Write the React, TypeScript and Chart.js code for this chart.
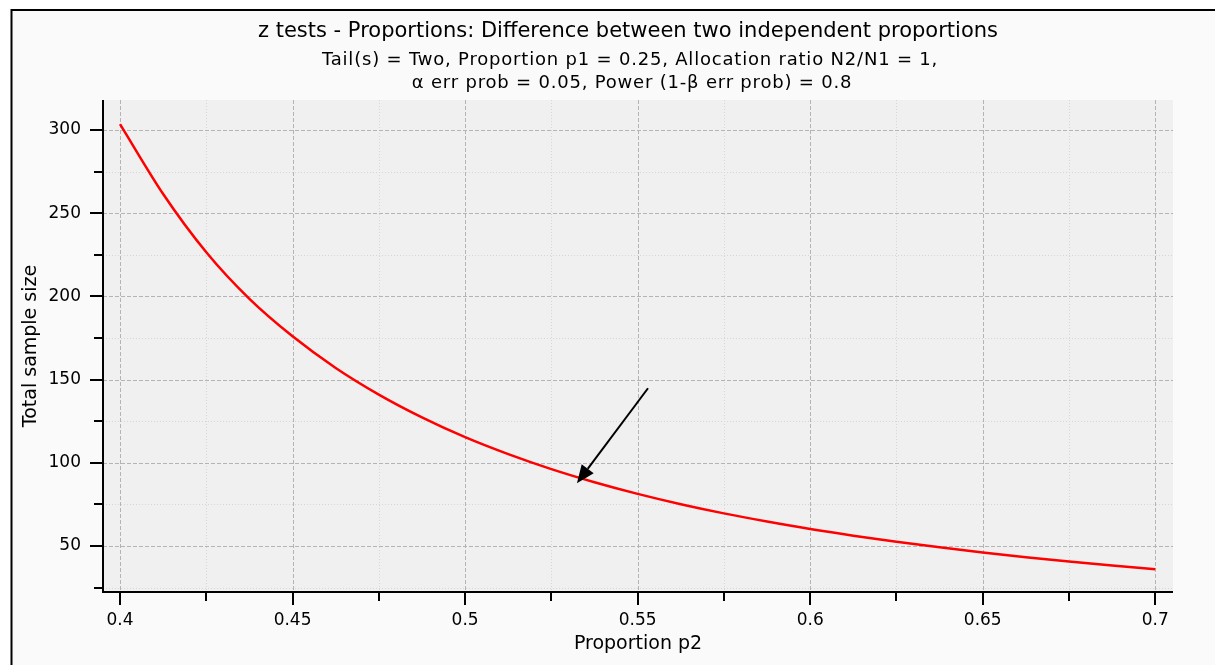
import React, { useEffect, useRef } from "react";
import { Chart, registerables } from "chart.js";

Chart.register(...registerables);

const titleText = "z tests - Proportions: Difference between two independent proportions";
const subtitleLines = [
  "Tail(s) = Two, Proportion p1 = 0.25, Allocation ratio N2/N1 = 1,",
  "α err prob = 0.05, Power (1-β err prob) = 0.8",
];
const xAxisTitle = "Proportion p2";
const yAxisTitle = "Total sample size";

const p2Values = [
  0.4, 0.4125, 0.425, 0.4375, 0.45, 0.4625, 0.475, 0.4875, 0.5, 0.5125, 0.525, 0.5375, 0.55,
  0.5625, 0.575, 0.5875, 0.6, 0.6125, 0.625, 0.6375, 0.65, 0.6625, 0.675, 0.6875, 0.7,
];
const totalSampleSize = [
  303.5, 261.5, 226.5, 198.5, 176, 157, 141, 127.3, 115.4, 105.2, 96.2, 88.3, 81.3, 75.1, 69.6,
  64.7, 60.2, 56.2, 52.55, 49.2, 46.12, 43.29, 40.69, 38.29, 36.09,
];

const xTickValues = [
  0.4, 0.425, 0.45, 0.475, 0.5, 0.525, 0.55, 0.575, 0.6, 0.625, 0.65, 0.675, 0.7,
];
const xMajorStep = 0.05;
const yTickValues = [25, 50, 75, 100, 125, 150, 175, 200, 225, 250, 275, 300];
const yMajorStep = 50;
const xRange = [0.39507, 0.70513];
const yRange = [22.36, 318.0];

const arrowFrom = [0.553, 144.8];
const arrowTo = [0.5324, 87.7];

const FONT = '"DejaVu Sans", sans-serif';

const isMajor = (v: number, step: number) => Math.abs(v / step - Math.round(v / step)) < 1e-6;

const decorPlugin = {
  id: "decor",
  beforeDraw(chart: any) {
    const { ctx, width, height, chartArea } = chart;
    ctx.save();
    ctx.fillStyle = "#ffffff";
    ctx.fillRect(0, 0, width, height);
    ctx.fillStyle = "#fafafa";
    ctx.fillRect(11, 10, width, height);
    ctx.strokeStyle = "#000000";
    ctx.lineWidth = 2;
    ctx.beginPath();
    ctx.moveTo(11.5, height + 5);
    ctx.lineTo(11.5, 10);
    ctx.lineTo(width + 5, 10);
    ctx.stroke();
    ctx.fillStyle = "#f0f0f0";
    ctx.fillRect(chartArea.left, chartArea.top, chartArea.right - chartArea.left, chartArea.bottom - chartArea.top);

    // titles
    ctx.fillStyle = "#000000";
    ctx.textAlign = "center";
    ctx.textBaseline = "middle";
    ctx.font = `21px ${FONT}`;
    ctx.fillText(titleText, 628, 32);
    ctx.font = `18px ${FONT}`;
    (ctx as any).letterSpacing = "0.8px";
    ctx.fillText(subtitleLines[0], 630, 60);
    ctx.fillText(subtitleLines[1], 632, 83);
    (ctx as any).letterSpacing = "0px";
    ctx.restore();
  },
  beforeDatasetsDraw(chart: any) {
    const { ctx, chartArea, scales } = chart;
    const xs = scales.x;
    const ys = scales.y;
    ctx.save();
    ctx.lineWidth = 1;
    xTickValues.forEach((v) => {
      const major = isMajor(v, xMajorStep);
      const px = Math.round(xs.getPixelForValue(v)) + 0.5;
      ctx.strokeStyle = major ? "#b4b4b4" : "#d6d6d6";
      ctx.setLineDash(major ? [4, 2] : [1, 2]);
      ctx.beginPath();
      ctx.moveTo(px, chartArea.top);
      ctx.lineTo(px, chartArea.bottom);
      ctx.stroke();
    });
    yTickValues.forEach((v) => {
      const major = isMajor(v, yMajorStep);
      const py = Math.round(ys.getPixelForValue(v)) + 0.5;
      ctx.strokeStyle = major ? "#b4b4b4" : "#d6d6d6";
      ctx.setLineDash(major ? [4, 2] : [1, 2]);
      ctx.beginPath();
      ctx.moveTo(chartArea.left, py);
      ctx.lineTo(chartArea.right, py);
      ctx.stroke();
    });
    ctx.restore();
  },
  afterDatasetsDraw(chart: any) {
    const { ctx, chartArea, scales } = chart;
    const xs = scales.x;
    const ys = scales.y;
    ctx.save();
    ctx.strokeStyle = "#000000";
    ctx.lineWidth = 2;
    ctx.setLineDash([]);
    // axes
    ctx.beginPath();
    ctx.moveTo(chartArea.left, chartArea.top);
    ctx.lineTo(chartArea.left, chartArea.bottom + 1);
    ctx.moveTo(chartArea.left - 1, chartArea.bottom);
    ctx.lineTo(chartArea.right, chartArea.bottom);
    ctx.stroke();
    // ticks
    ctx.beginPath();
    xTickValues.forEach((v) => {
      const len = isMajor(v, xMajorStep) ? 13 : 9;
      const px = Math.round(xs.getPixelForValue(v));
      ctx.moveTo(px, chartArea.bottom);
      ctx.lineTo(px, chartArea.bottom + len);
    });
    yTickValues.forEach((v) => {
      const len = isMajor(v, yMajorStep) ? 13 : 9;
      const py = Math.round(ys.getPixelForValue(v));
      ctx.moveTo(chartArea.left, py);
      ctx.lineTo(chartArea.left - len, py);
    });
    ctx.stroke();

    // arrow
    const x0 = xs.getPixelForValue(arrowFrom[0]);
    const y0 = ys.getPixelForValue(arrowFrom[1]);
    const x1 = xs.getPixelForValue(arrowTo[0]);
    const y1 = ys.getPixelForValue(arrowTo[1]);
    const ang = Math.atan2(y1 - y0, x1 - x0);
    const headLen = 18;
    const headHalf = 7.5;
    const bx = x1 - headLen * Math.cos(ang);
    const by = y1 - headLen * Math.sin(ang);
    ctx.lineWidth = 2;
    ctx.beginPath();
    ctx.moveTo(x0, y0);
    ctx.lineTo(bx, by);
    ctx.stroke();
    ctx.fillStyle = "#000000";
    ctx.beginPath();
    ctx.moveTo(x1, y1);
    ctx.lineTo(bx + headHalf * Math.sin(ang), by - headHalf * Math.cos(ang));
    ctx.lineTo(bx - headHalf * Math.sin(ang), by + headHalf * Math.cos(ang));
    ctx.closePath();
    ctx.fill();
    ctx.restore();
  },
};

export default function App() {
  const canvasRef = useRef<HTMLCanvasElement | null>(null);

  useEffect(() => {
    if (!canvasRef.current) return;
    const chart = new Chart(canvasRef.current, {
      type: "line",
      data: {
        datasets: [
          {
            data: p2Values.map((x, i) => ({ x, y: totalSampleSize[i] })),
            borderColor: "#ff0000",
            borderWidth: 2.5,
            pointRadius: 0,
            fill: false,
            cubicInterpolationMode: "monotone",
          },
        ],
      },
      options: {
        responsive: false,
        animation: false,
        events: [],
        layout: { padding: { top: 100, left: 0, right: 42, bottom: 0 } },
        plugins: {
          legend: { display: false },
          tooltip: { enabled: false },
          title: { display: false },
        },
        scales: {
          x: {
            type: "linear",
            min: xRange[0],
            max: xRange[1],
            afterBuildTicks: (s: any) => {
              s.ticks = xTickValues.map((value) => ({ value }));
            },
            afterFit: (s: any) => {
              s.height = 73;
            },
            grid: { display: false, drawTicks: false },
            border: { display: false },
            ticks: {
              autoSkip: false,
              maxRotation: 0,
              padding: 18,
              color: "#000000",
              font: { family: FONT, size: 17 },
              callback: (v: any) => (isMajor(Number(v), xMajorStep) ? String(Number(Number(v).toFixed(2))) : ""),
            },
            title: {
              display: true,
              text: xAxisTitle,
              color: "#000000",
              font: { family: FONT, size: 19 },
              padding: { top: 0, bottom: 10 },
            },
          },
          y: {
            type: "linear",
            min: yRange[0],
            max: yRange[1],
            afterBuildTicks: (s: any) => {
              s.ticks = yTickValues.map((value) => ({ value }));
            },
            afterFit: (s: any) => {
              s.width = 103;
            },
            grid: { display: false, drawTicks: false },
            border: { display: false },
            ticks: {
              autoSkip: false,
              padding: 22,
              color: "#000000",
              font: { family: FONT, size: 17 },
              callback: (v: any) => (isMajor(Number(v), yMajorStep) ? String(Math.round(Number(v))) : ""),
            },
            title: {
              display: true,
              text: yAxisTitle,
              color: "#000000",
              font: { family: FONT, size: 19 },
              padding: { top: 20, bottom: 0 },
            },
          },
        },
      },
      plugins: [decorPlugin],
    });
    return () => chart.destroy();
  }, []);

  return (
    <div style={{ position: "fixed", left: 0, top: 0, width: 1215, height: 665 }}>
      <canvas ref={canvasRef} width={1215} height={665} style={{ display: "block", width: 1215, height: 665 }} />
    </div>
  );
}
